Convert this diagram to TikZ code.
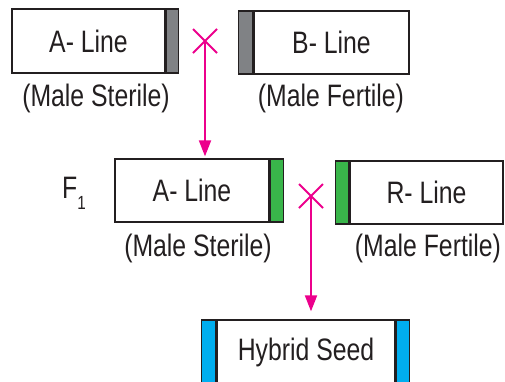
\documentclass[tikz,border=0pt]{standalone}
\usepackage{fontspec}
\setmainfont{Liberation Sans}[FakeStretch=0.8]
\usetikzlibrary{arrows.meta,shapes.misc}
\definecolor{ink}{HTML}{231F20}
\definecolor{cross}{HTML}{EC008C}
\definecolor{sterile}{HTML}{808285}
\definecolor{restorer}{HTML}{39B54A}
\definecolor{seed}{HTML}{00AEEF}
\begin{document}
\begin{tikzpicture}[x=1pt,y=-1pt,
  every node/.style={text=ink,font=\fontsize{31}{34}\selectfont},
  linebox/.style={draw=ink,line width=1.3pt,fill=white,inner sep=0pt,minimum height=63pt},
  bar/.style={draw=ink,line width=1.3pt,inner sep=0pt,minimum height=63pt},
  caption/.style={inner sep=0pt},
  mark x/.style={cross out,draw=cross,line width=2pt,minimum size=22pt,inner sep=0pt},
  pollen/.style={draw=cross,line width=2pt,-{Triangle[width=12pt,length=16pt]}}]
\useasboundingbox (0,0) rectangle (505,381);

% parents: A-line x B-line
\node[linebox,minimum width=153pt,minimum height=64pt] (a1) at (88.5,41) {A- Line};
\node[bar,fill=sterile,minimum width=12pt,minimum height=64pt,anchor=west] (a1bar) at (a1.east) {};
\node[caption] (a1cap) at (96,98) {(Male Sterile)};

\node[linebox,minimum width=155pt] (b1) at (331.5,42.5) {B- Line};
\node[bar,fill=sterile,minimum width=14pt,anchor=east] (b1bar) at (b1.west) {};
\node[caption] (b1cap) at (331,98) {(Male Fertile)};

\node[mark x] (x1) at (205,41) {};

% F1: A-line x R-line
\node (f1) at (74,193) {F\raisebox{-11pt}{\fontsize{19}{19}\selectfont 1}};
\node[linebox,minimum width=154pt] (a2) at (192,190.5) {A- Line};
\node[bar,fill=restorer,minimum width=13pt,anchor=west] (a2bar) at (a2.east) {};
\node[caption] (a2cap) at (198,248) {(Male Sterile)};

\node[linebox,minimum width=153pt] (r1) at (426.5,192.5) {R- Line};
\node[bar,fill=restorer,minimum width=13pt,anchor=east] (r1bar) at (r1.west) {};
\node[caption] (r1cap) at (428,248) {(Male Fertile)};

\node[mark x] (x2) at (311,196) {};

% hybrid
\node[linebox,minimum width=178pt,minimum height=64pt] (h1) at (306,352) {Hybrid Seed};
\node[bar,fill=seed,minimum width=14pt,minimum height=64pt,anchor=east] (h1l) at (h1.west) {};
\node[bar,fill=seed,minimum width=13pt,minimum height=64pt,anchor=west] (h1r) at (h1.east) {};

% crosses
\draw[pollen,shorten >=2pt] (x1.center) -- (x1.center |- a2.north);
\draw[pollen,shorten >=8pt] (x2.center) -- (x2.center |- h1.north);
\end{tikzpicture}
\end{document}
